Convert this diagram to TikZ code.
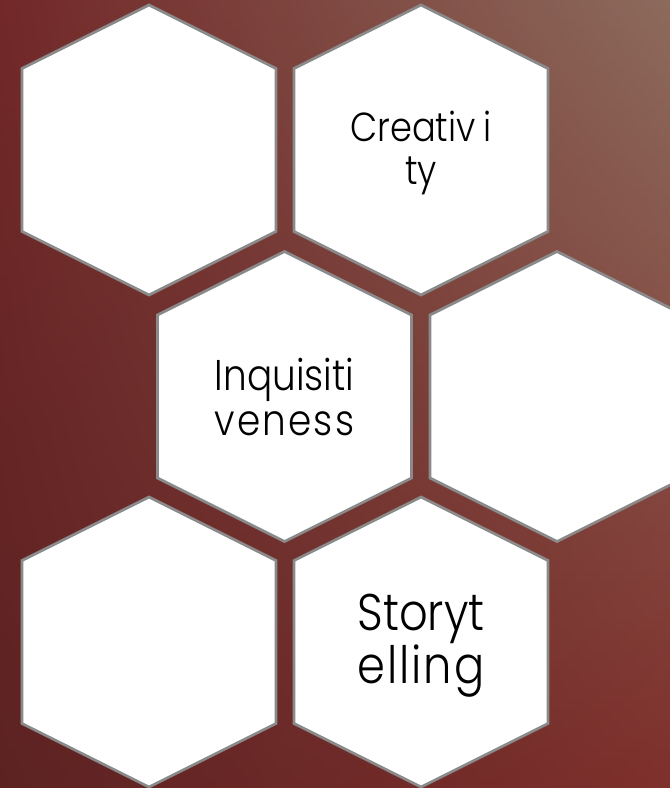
\documentclass[tikz,border=0pt]{standalone}
\usepackage{fontspec}
\IfFontExistsTF{Poppins Light}
  {\setmainfont{Poppins Light}[FakeStretch=0.87]}
  {\setmainfont{Poppins}[FakeStretch=0.87]}
\definecolor{bgtl}{HTML}{722828}
\definecolor{bgtm}{HTML}{843C36}
\definecolor{bgtr}{HTML}{8C6A5C}
\definecolor{bgbl}{HTML}{5C2222}
\definecolor{bgbm}{HTML}{6E2A27}
\definecolor{bgbr}{HTML}{7E302C}
\definecolor{hexline}{HTML}{8A8A8A}
\tikzset{
  hexcell/.style={fill=white, draw=hexline, line width=2.7pt, line join=miter},
  hexlabel/.style={align=center, text=black, inner sep=0pt},
}
\newlength\hexlinewA
\newlength\hexlinewB
\newcommand{\hexcellat}[2]{%
  \draw[hexcell] (#1,#2) ++(0,-145) -- ++(127,63.5) -- ++(0,163) -- ++(-127,63.5)
    -- ++(-127,-63.5) -- ++(0,-163) -- cycle;}
\begin{document}
\settowidth{\hexlinewA}{\fontsize{43}{45}\selectfont Inquisiti}%
\settowidth{\hexlinewB}{\fontsize{51.5}{53}\selectfont Storyt}%
\begin{tikzpicture}[x=1pt,y=-1pt]
\useasboundingbox (0,0) rectangle (670,788);
\foreach \i in {0,...,79}{
  \pgfmathsetmacro\p{100*(1-\i/79)}
  \shade[left color=bgtl!\p!bgbl, middle color=bgtm!\p!bgbm, right color=bgtr!\p!bgbr]
    (0,\i*9.85) rectangle (670,\i*9.85+10.5);
}
\begin{scope}
\clip (0,0) rectangle (670,788);
\hexcellat{149}{150}
\hexcellat{421}{150}
\hexcellat{284.5}{396.5}
\hexcellat{557}{396.5}
\hexcellat{149}{642}
\hexcellat{421}{642}
\end{scope}
\node[hexlabel, font=\fontsize{40.5}{42.5}\selectfont] (creat) at (421,153) {Creativ\kern8pt i\\ty};
\node[hexlabel, font=\fontsize{43}{45}\selectfont] (inq) at (284.5,397)
  {Inquisiti\\\makebox[\hexlinewA][s]{v\hfil e\hfil n\hfil e\hfil s\hfil s}};
\node[hexlabel, font=\fontsize{51.5}{53}\selectfont] (story) at (421,646)
  {Storyt\\\makebox[\hexlinewB][s]{e\hfil l\hfil l\hfil i\hfil n\hfil g}};
\end{tikzpicture}
\end{document}
